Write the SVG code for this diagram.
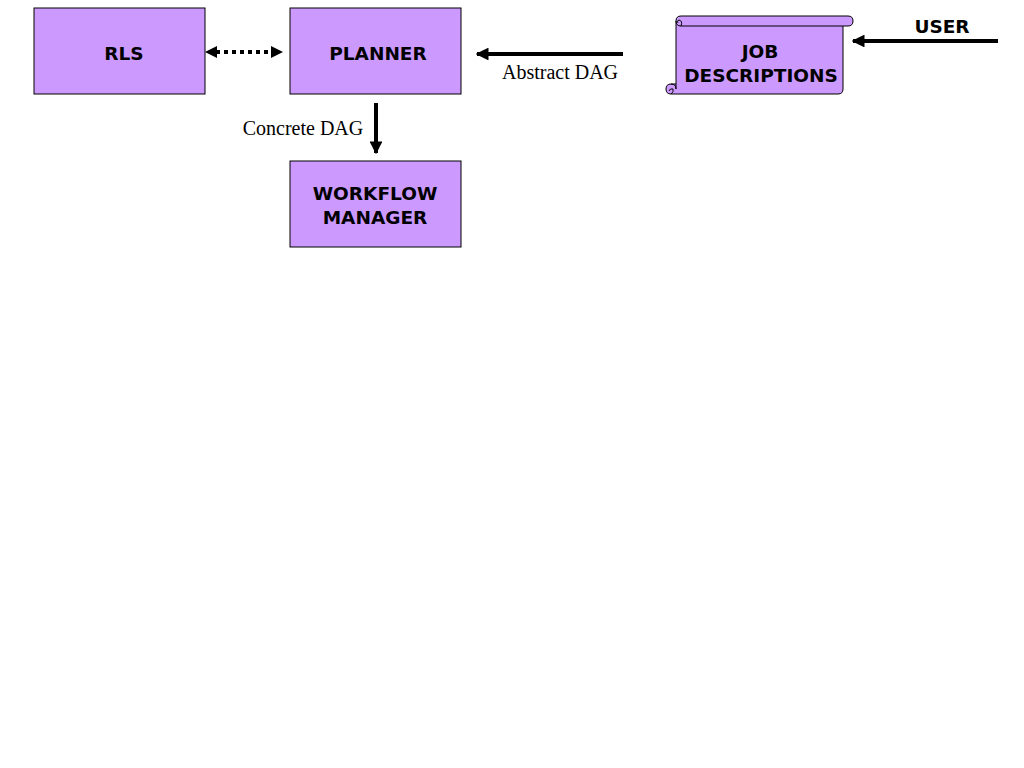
<svg xmlns="http://www.w3.org/2000/svg" width="1024" height="768" viewBox="0 0 1024 768">
<style>
.box{fill:#CC99FF;stroke:#000;stroke-width:1}
.lbl{font-family:"DejaVu Sans",Verdana,sans-serif;font-weight:bold;font-size:18.5px;fill:#000;text-anchor:middle}
.cap{font-family:"Liberation Serif","Times New Roman",serif;font-size:20px;fill:#000;text-anchor:middle}
.ln{stroke:#000;stroke-width:4;fill:none}
</style>
<defs>
<marker id="ah" viewBox="0 0 10 10" refX="9" refY="5" markerWidth="3.2" markerHeight="3.2" orient="auto-start-reverse" markerUnits="strokeWidth">
<path d="M0,0 L10,5 L0,10 z" fill="#000"/>
</marker>
</defs>
<rect width="1024" height="768" fill="#fff"/>
<g id="rls"><rect class="box" x="34" y="8" width="171" height="86"/><text class="lbl" x="124" y="60">RLS</text></g>
<g id="planner"><rect class="box" x="290" y="8" width="171" height="86"/><text class="lbl" x="378" y="60">PLANNER</text></g>
<g id="workflow"><rect class="box" x="290" y="161" width="171" height="86"/><text class="lbl" x="375" y="200">WORKFLOW</text><text class="lbl" x="375" y="224">MANAGER</text></g>
<g id="jobdesc">
<path class="box" d="M676,21 Q676,16 681,16 L848,16 Q853,16 853,21 Q853,26 848,26 L843,26 L843,89 Q843,94 838,94 L671,94 Q666,94 666,89 Q666,84 671,84 L676,84 Z"/>
<path d="M676,21 Q676,26 681,26 L843,26" fill="none" stroke="#000" stroke-width="1"/>
<path d="M681,26 Q683,21 679,20 Q676,21 678,23" fill="none" stroke="#000" stroke-width="1"/>
<path d="M671,84 Q676,84 676,89 L676,84" fill="none" stroke="#000" stroke-width="1"/>
<path d="M671,94 Q674,92 673,89 Q670,88 669,91" fill="none" stroke="#000" stroke-width="1"/>
<text class="lbl" x="760" y="58">JOB</text>
<text class="lbl" x="761" y="82">DESCRIPTIONS</text>
</g>
<g id="user"><text class="lbl" x="942" y="33">USER</text></g>
<g id="connectors">
<line class="ln" x1="216" y1="52" x2="272" y2="52" stroke-dasharray="4,4"/>
<path d="M205,52 L217,46 L217,58 Z" fill="#000"/>
<path d="M283,52 L271,46 L271,58 Z" fill="#000"/>
<line class="ln" x1="623" y1="54" x2="477" y2="54" marker-end="url(#ah)"/>
<line class="ln" x1="376" y1="103" x2="376" y2="153" marker-end="url(#ah)"/>
<line class="ln" x1="998" y1="41" x2="853" y2="41" marker-end="url(#ah)"/>
<text class="cap" x="560" y="79">Abstract DAG</text>
<text class="cap" x="303" y="135">Concrete DAG</text>
</g>
</svg>
